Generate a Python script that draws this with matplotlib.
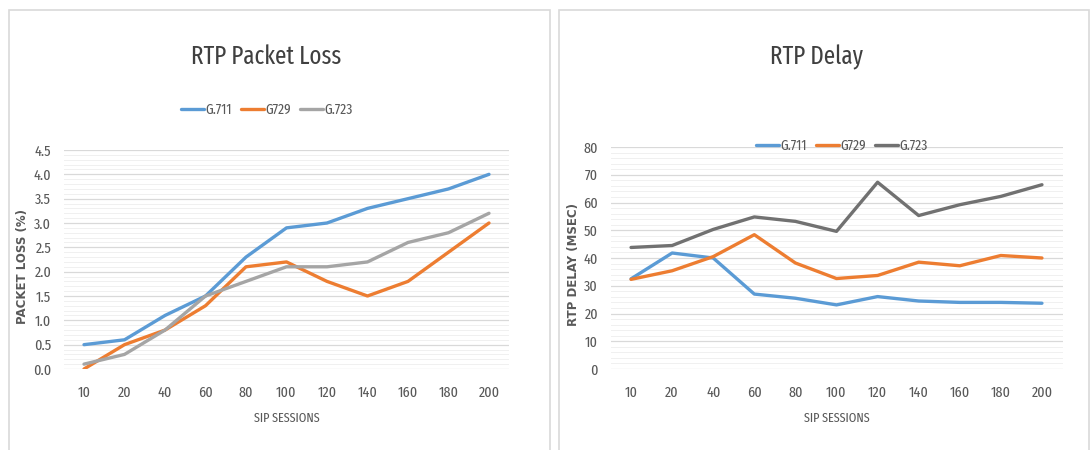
import matplotlib
matplotlib.use("Agg")
import matplotlib.pyplot as plt
from matplotlib.patches import Rectangle
from matplotlib.ticker import MultipleLocator, FormatStrFormatter

plt.rcParams['font.family'] = ['Fira Sans Extra Condensed', 'DejaVu Sans']

sessions = ["10", "20", "40", "60", "80", "100", "120", "140", "160", "180", "200"]

# RTP packet loss (%)
loss_g711 = [0.5, 0.6, 1.1, 1.5, 2.3, 2.9, 3.0, 3.3, 3.5, 3.7, 4.0]
loss_g729 = [0.0, 0.5, 0.8, 1.3, 2.1, 2.2, 1.8, 1.5, 1.8, 2.4, 3.0]
loss_g723 = [0.1, 0.3, 0.8, 1.5, 1.8, 2.1, 2.1, 2.2, 2.6, 2.8, 3.2]

# RTP delay (msec)
delay_g711 = [32.5, 41.8, 40.0, 27.0, 25.5, 23.1, 26.1, 24.5, 24.0, 24.0, 23.7]
delay_g729 = [32.3, 35.4, 40.5, 48.4, 38.2, 32.6, 33.7, 38.5, 37.2, 40.9, 40.0]
delay_g723 = [43.8, 44.5, 50.3, 54.8, 53.2, 49.6, 67.3, 55.3, 59.2, 62.2, 66.4]

series_names = ["G.711", "G729", "G.723"]

BLUE = "#5b9bd5"
ORANGE = "#ed7d31"
GRAY_LIGHT = "#a5a5a5"
GRAY_DARK = "#717171"
TEXT = "#595959"
TITLE = "#404040"
FONT = "Fira Sans Extra Condensed"

W, H = 1091, 450
fig = plt.figure(figsize=(W / 100, H / 100), dpi=100)
fig.patch.set_facecolor("white")


def fx(px):
    return px / W


def fy(py):
    return 1 - py / H


# chart frames
for x0, x1 in [(9, 550), (559, 1089)]:
    fig.patches.append(Rectangle((fx(x0), fy(470)), fx(x1 - x0), (470 - 10) / H,
                                 transform=fig.transFigure, fill=False,
                                 edgecolor="#d9d9d9", linewidth=1.2))


def style_axes(ax, ymax, major, minor, ylabel, label_x):
    ax.set_xlim(-0.5, len(sessions) - 0.5)
    ax.set_ylim(0, ymax)
    ax.yaxis.set_major_locator(MultipleLocator(major))
    ax.yaxis.set_minor_locator(MultipleLocator(minor))
    ax.grid(True, which="major", axis="y", color="#d9d9d9", linewidth=0.9)
    ax.grid(True, which="minor", axis="y", color="#f0f0f0", linewidth=0.7)
    ax.set_axisbelow(True)
    for s in ax.spines.values():
        s.set_visible(False)
    ax.tick_params(axis="both", which="both", length=0, colors=TEXT, labelsize=11)
    ax.tick_params(axis="x", pad=12)
    ax.tick_params(axis="y", pad=9)
    ax.set_xticks(range(len(sessions)))
    ax.set_xticklabels(sessions)
    ax.set_xlabel("SIP SESSIONS", color=TEXT, fontsize=9.5, labelpad=9)
    ax.set_ylabel(ylabel, color=TEXT, fontsize=8.5, fontweight="bold",
                  fontfamily="DejaVu Sans")
    ax.yaxis.set_label_coords(label_x, 0.47)


def add_legend(handles, cx, cy):
    fig.legend(handles, series_names, loc="center", bbox_to_anchor=(fx(cx), fy(cy)),
               ncol=3, frameon=False, labelcolor=TEXT, handlelength=1.6,
               handletextpad=0.1, columnspacing=0.6,
               prop={"family": FONT, "size": 10.5})


x = range(len(sessions))

# ---- RTP Packet Loss ----
ax1 = fig.add_axes([fx(63.75), fy(369), fx(445.5), (369 - 150) / H])
l1, = ax1.plot(x, loss_g711, color=BLUE, lw=2.4, solid_capstyle="round")
l2, = ax1.plot(x, loss_g729, color=ORANGE, lw=2.4, solid_capstyle="round")
l3, = ax1.plot(x, loss_g723, color=GRAY_LIGHT, lw=2.4, solid_capstyle="round")
style_axes(ax1, 4.5, 0.5, 0.1, "PACKET LOSS (%)", -0.077)
ax1.yaxis.set_major_formatter(FormatStrFormatter("%.1f"))
fig.text(fx(266), fy(57), "RTP Packet Loss", ha="center", va="center",
         fontsize=18, color=TITLE)
add_legend([l1, l2, l3], 267, 110)

# ---- RTP Delay ----
ax2 = fig.add_axes([fx(610.5), fy(369), fx(452), (369 - 147) / H])
r1, = ax2.plot(x, delay_g711, color=BLUE, lw=2.4, solid_capstyle="round")
r2, = ax2.plot(x, delay_g729, color=ORANGE, lw=2.4, solid_capstyle="round")
r3, = ax2.plot(x, delay_g723, color=GRAY_DARK, lw=2.4, solid_capstyle="round")
style_axes(ax2, 80, 10, 2, "RTP DELAY (MSEC)", -0.068)
fig.text(fx(817), fy(57), "RTP Delay", ha="center", va="center",
         fontsize=18, color=TITLE)
add_legend([r1, r2, r3], 842, 146)

fig.savefig("out.png", dpi=100, facecolor="white")
